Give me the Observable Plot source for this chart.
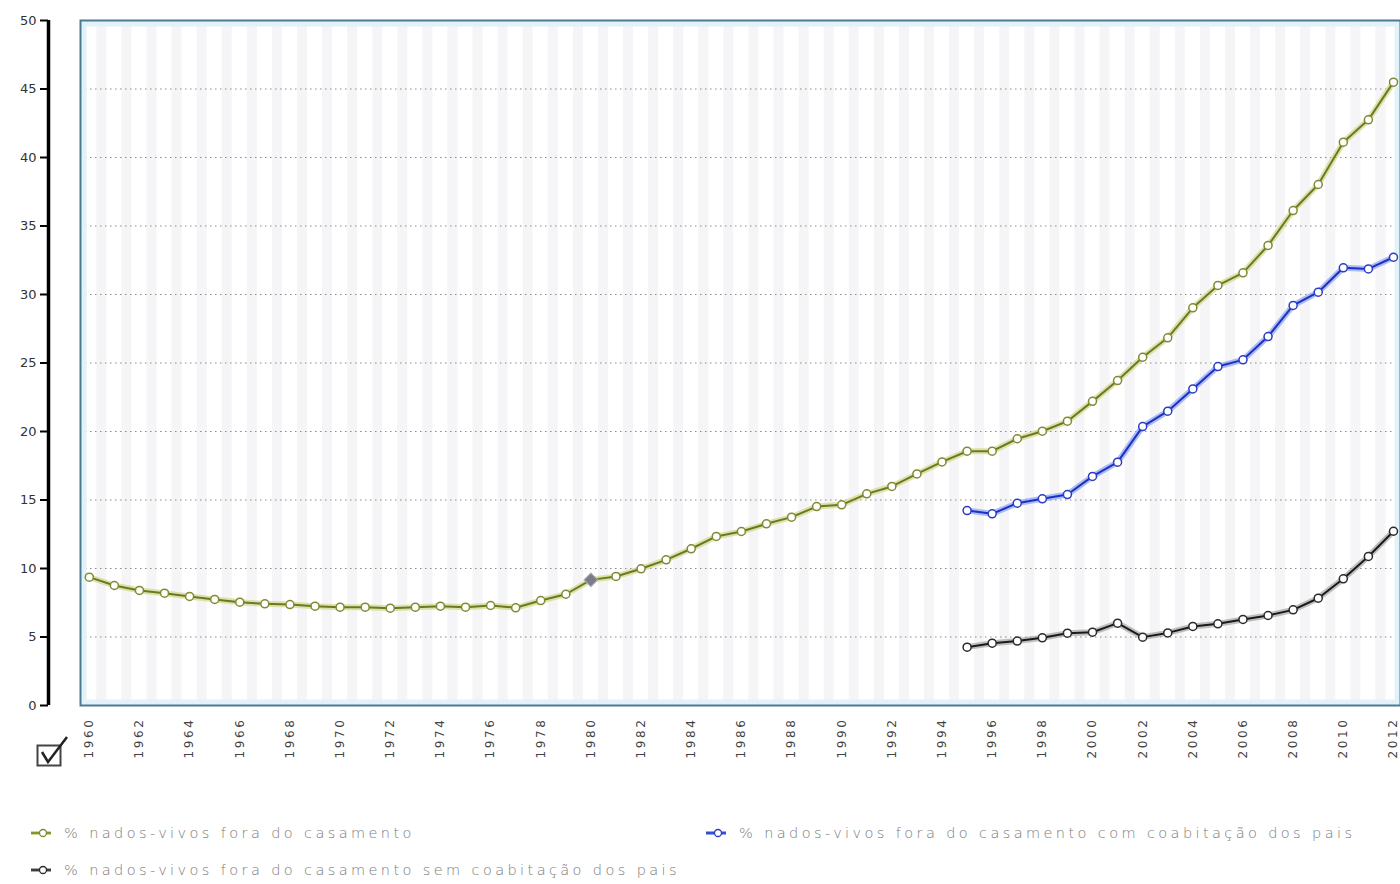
<!DOCTYPE html>
<html><head><meta charset="utf-8">
<script src="https://cdn.jsdelivr.net/npm/d3@7"></script>
<script src="https://cdn.jsdelivr.net/npm/@observablehq/plot@0.6"></script>
<style>
body{margin:0;background:#fff;font-family:"DejaVu Sans",sans-serif;}
#wrap{position:relative;width:1400px;height:884px;overflow:hidden;}
#chart{position:absolute;left:0;top:0;}
#check{position:absolute;left:35px;top:734px;}
.legend{position:absolute;font-size:14.5px;font-weight:200;color:#7a7a7a;letter-spacing:3.4px;white-space:nowrap;display:flex;align-items:center;height:18px;}
.legend svg{margin-right:12px;}
#chart g[aria-label="x-axis tick label"] text{letter-spacing:2.6px;}
</style></head><body>
<div id="wrap">
<div id="chart"></div>
<div id="check"><svg width="34" height="34" viewBox="0 0 34 34"><rect x="2.5" y="11.5" width="23" height="20" fill="#fff" stroke="#444" stroke-width="2"/><path d="M7 18 L13 28 L32 3" fill="none" stroke="#222" stroke-width="2.5"/></svg></div>
<div id="legend"></div>
</div>
<script>
// ---- data ----
const yearsAll = [1960,1961,1962,1963,1964,1965,1966,1967,1968,1969,1970,1971,1972,1973,1974,1975,1976,1977,1978,1979,1980,1981,1982,1983,1984,1985,1986,1987,1988,1989,1990,1991,1992,1993,1994,1995,1996,1997,1998,1999,2000,2001,2002,2003,2004,2005,2006,2007,2008,2009,2010,2011,2012];
const foraCasamento = [9.37,8.76,8.4,8.2,7.96,7.74,7.54,7.42,7.37,7.25,7.18,7.18,7.1,7.18,7.25,7.18,7.3,7.13,7.66,8.12,9.17,9.42,9.98,10.63,11.44,12.34,12.7,13.26,13.75,14.52,14.65,15.45,15.99,16.9,17.78,18.56,18.56,19.47,20.02,20.75,22.2,23.72,25.42,26.84,29.03,30.66,31.58,33.58,36.13,38.03,41.12,42.75,45.5];
const yearsCoab = [1995,1996,1997,1998,1999,2000,2001,2002,2003,2004,2005,2006,2007,2008,2009,2010,2011,2012];
const comCoabitacao = [14.23,13.99,14.77,15.09,15.4,16.72,17.76,20.36,21.48,23.11,24.74,25.23,26.93,29.2,30.17,31.95,31.87,32.72];
const semCoabitacao = [4.26,4.55,4.7,4.94,5.28,5.35,6.01,4.99,5.3,5.77,5.96,6.28,6.57,6.98,7.83,9.25,10.88,12.72];
const yTicks = [0,5,10,15,20,25,30,35,40,45,50];
const gridTicks = [5,10,15,20,25,30,35,40,45];
const xTickYears = [1960,1962,1964,1966,1968,1970,1972,1974,1976,1978,1980,1982,1984,1986,1988,1990,1992,1994,1996,1998,2000,2002,2004,2006,2008,2010,2012];
const highlightYear = 1980;
const seriesNames = ["% nados-vivos fora do casamento","% nados-vivos fora do casamento com coabitação dos pais","% nados-vivos fora do casamento sem coabitação dos pais"];

// ---- build ----
const green = yearsAll.map((y,i)=>({year:y, v:foraCasamento[i]}));
const blue = yearsCoab.map((y,i)=>({year:y, v:comCoabitacao[i]}));
const black = yearsCoab.map((y,i)=>({year:y, v:semCoabitacao[i]}));
const xDomain = [1959.65, 2012.28];

const styles = [
  {halo:"#d3da8e", core:"#6d7724", mark:"#7f8a33"},
  {halo:"#8fa6f7", core:"#1f2fc0", mark:"#2a3dc4"},
  {halo:"#a9a9a9", core:"#1a1a1a", mark:"#2a2a2a"}
];
function seriesMarks(data, s){
  return [
    Plot.line(data, {x:"year", y:"v", stroke:s.halo, strokeWidth:6, strokeOpacity:0.75}),
    Plot.line(data, {x:"year", y:"v", stroke:s.core, strokeWidth:2}),
    Plot.dot(data, {x:"year", y:"v", r:4, fill:"#fff", stroke:s.mark, strokeWidth:1.5})
  ];
}

const chart = Plot.plot({
  width:1400, height:790,
  marginLeft:80, marginRight:0, marginTop:20, marginBottom:85,
  x:{domain:xDomain},
  y:{domain:[0,50]},
  style:{fontFamily:"DejaVu Sans, sans-serif", background:"transparent"},
  marks:[
    Plot.frame({fill:"#ffffff"}),
    Plot.rect(yearsAll, {x1:d=>d+0.3, x2:d=>d+0.7, y1:0, y2:50, fill:"#f5f5f7", clip:true}),
    Plot.ruleY(gridTicks, {stroke:"#8a8a8a", strokeDasharray:"1.5,3.5", strokeWidth:1}),
    Plot.frame({stroke:"#e3f2f9", strokeWidth:6, inset:3}),
    Plot.frame({stroke:"#4d7a93", strokeWidth:2}),
    ...seriesMarks(green, styles[0]),
    ...seriesMarks(blue, styles[1]),
    ...seriesMarks(black, styles[2]),
    Plot.dot(green.filter(d=>d.year===highlightYear), {x:"year", y:"v", symbol:"square", rotate:45, r:5.5, fill:"#7b7b86", stroke:"#b0b0b8", strokeWidth:1}),
    Plot.axisY({ticks:yTicks, tickSize:8, dx:-32, tickPadding:4, fontSize:13, stroke:"#000", strokeWidth:2, fill:"#333", label:null, tickFormat:d=>String(d)}),
    Plot.ruleX([xDomain[0]], {x:d=>d, y1:0, y2:50, dx:-32, stroke:"#000", strokeWidth:3.5}),
    Plot.axisX({ticks:xTickYears, tickSize:0, tickRotate:-90, tickPadding:12, fontSize:12, fill:"#444", label:null, tickFormat:d=>String(d)})
  ]
});
document.getElementById("chart").appendChild(chart);

// ---- legend ----
const legendPos = [{left:30, top:824},{left:705, top:824},{left:30, top:861}];
const leg = document.getElementById("legend");
seriesNames.forEach((name,i)=>{
  const d = document.createElement("div");
  d.className = "legend";
  d.style.left = legendPos[i].left + "px";
  d.style.top = legendPos[i].top + "px";
  const s = styles[i];
  d.innerHTML = `<svg width="22" height="12"><line x1="1" y1="6" x2="21" y2="6" stroke="${s.halo}" stroke-width="4"/><line x1="1" y1="6" x2="21" y2="6" stroke="${s.core}" stroke-width="1.5"/><circle cx="13" cy="6" r="3.5" fill="#fff" stroke="${s.mark}" stroke-width="1.3"/></svg><span>${name}</span>`;
  leg.appendChild(d);
});
</script>
</body></html>
